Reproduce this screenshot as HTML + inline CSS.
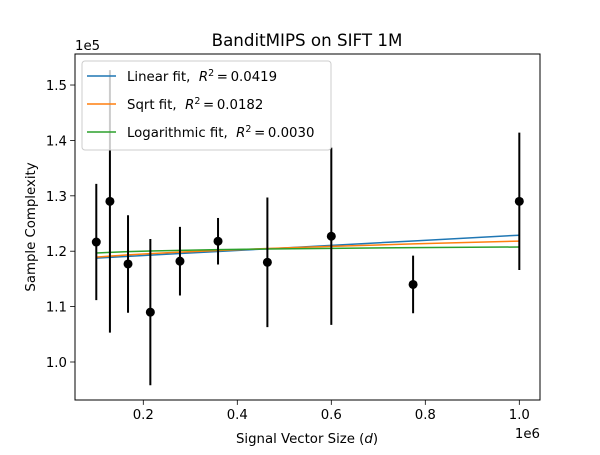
<!DOCTYPE html>
<html><head><meta charset="utf-8"><style>
body{margin:0;background:#fff}
svg text{font-family:"DejaVu Sans","Liberation Sans",sans-serif;fill:#000;white-space:pre}
</style></head><body>
<svg id="c" width="600" height="450" viewBox="0 0 600 450">
<rect width="600" height="450" fill="#fff"/>
<text x="307" y="46" font-size="16.7" text-anchor="middle">BanditMIPS on SIFT 1M</text>
<g id="plot"></g>
</svg>
<script>
const xs=[0.1,0.129,0.1675,0.215,0.278,0.359,0.464,0.6,0.774,1.0];
const ys=[1.2166,1.290,1.177,1.090,1.182,1.218,1.180,1.227,1.140,1.290];
const errs=[0.105,0.237,0.088,0.132,0.062,0.042,0.117,0.160,0.052,0.124];
const linCoef=[1.183,0.0459];
const sqrtCoef=[1.176,0.0423];
const logCoef=[1.2076,0.00469];
const xTicks=[0.2,0.4,0.6,0.8,1.0];
const yTicks=[1.0,1.1,1.2,1.3,1.4,1.5];
const legendLabels=["Linear fit,  ","Sqrt fit,  ","Logarithmic fit,  "];
const legendR2=["0.0419","0.0182","0.0030"];
const colors=["#1f77b4","#ff7f0e","#2ca02c"];
const L=75,R=540,T=54,B=400;
const xMin=0.0547,xMax=1.044,yMin=0.9314,yMax=1.556;
const X=v=>L+(v-xMin)/(xMax-xMin)*(R-L);
const Y=v=>B-(v-yMin)/(yMax-yMin)*(B-T);
const NS="http://www.w3.org/2000/svg";
const g=document.getElementById('plot');
function mk(t,a,p){const e=document.createElementNS(NS,t);for(const k in a)e.setAttribute(k,a[k]);(p||g).appendChild(e);return e;}
const fits=[x=>linCoef[0]+linCoef[1]*x,x=>sqrtCoef[0]+sqrtCoef[1]*Math.sqrt(x),x=>logCoef[0]+logCoef[1]*Math.log(x)];
const fitNames=['linear-fit-line','sqrt-fit-line','log-fit-line'];
fits.forEach((f,i)=>{
 const pl=mk('polyline',{points:xs.map(x=>X(x)+','+Y(f(x))).join(' '),fill:'none',stroke:colors[i],'stroke-width':1.5});
 
 
});
xs.forEach((x,i)=>{
 const l=mk('line',{x1:X(x),x2:X(x),y1:Y(ys[i]-errs[i]),y2:Y(ys[i]+errs[i]),stroke:'#000','stroke-width':2});
 
 
 const c=mk('circle',{cx:X(x),cy:Y(ys[i]),r:4.5,fill:'#000'});
 
 
});
const fr=mk('rect',{x:L,y:T,width:R-L,height:B-T,fill:'none',stroke:'#000','stroke-width':1});


xTicks.forEach(t=>{
 mk('line',{x1:X(t),x2:X(t),y1:B,y2:B+4.9,stroke:'#000','stroke-width':0.8});
 const tx=mk('text',{x:X(t),y:B+19,'font-size':13.3,'text-anchor':'middle'});tx.textContent=t.toFixed(1);
 
 
});
yTicks.forEach(t=>{
 mk('line',{x1:L-4.9,x2:L,y1:Y(t),y2:Y(t),stroke:'#000','stroke-width':0.8});
 const tx=mk('text',{x:L-8,y:Y(t)+5,'font-size':13.3,'text-anchor':'end'});tx.textContent=t.toFixed(1);
 
 
});
let t=mk('text',{x:75,y:50,'font-size':13.3});t.textContent='1e5';


t=mk('text',{x:540,y:438,'font-size':13.3,'text-anchor':'end'});t.textContent='1e6';


t=mk('text',{x:307,y:443,'font-size':13.3,'text-anchor':'middle'});
t.innerHTML='Signal Vector Size (<tspan font-style="italic">d</tspan>)';


t=mk('text',{x:0,y:0,'font-size':13.3,'text-anchor':'middle',transform:'translate(35,227) rotate(-90)'});t.textContent='Sample Complexity';


const lg=mk('g',{});


mk('rect',{x:82,y:61,width:249,height:89,rx:3,fill:'#fff','fill-opacity':0.8,stroke:'#ccc','stroke-width':1},lg);
legendLabels.forEach((lab,i)=>{
 const yy=76+i*28;
 mk('line',{x1:87,x2:116,y1:yy,y2:yy,stroke:colors[i],'stroke-width':1.5},lg);
 const tx=mk('text',{x:127,y:yy+5,'font-size':13.3},lg);
 tx.innerHTML=lab+'<tspan font-style="italic">R</tspan><tspan dy="-5" font-size="9.5">2</tspan><tspan dy="5">\u2009=\u20090.</tspan>'.replace('0.</tspan>','')+'<tspan>'+legendR2[i]+'</tspan>';
 
 
});
</script>
</body></html>
